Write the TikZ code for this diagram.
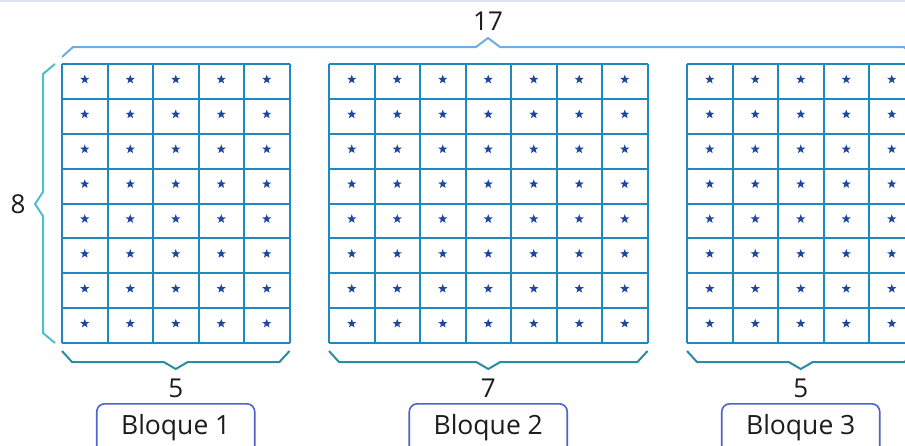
\documentclass[tikz,border=0pt]{standalone}
\usepackage{fontspec}
\setmainfont{Open Sans}
\usetikzlibrary{shapes.geometric}

\definecolor{gridblue}{RGB}{30,136,192}
\definecolor{starblue}{RGB}{30,72,160}
\definecolor{topbrace}{RGB}{110,172,230}
\definecolor{leftbrace}{RGB}{80,188,210}
\definecolor{lowbrace}{RGB}{40,140,162}
\definecolor{boxblue}{RGB}{78,100,200}
\definecolor{stripgray}{RGB}{221,227,240}
\definecolor{inkgray}{RGB}{28,28,28}

\begin{document}
\begin{tikzpicture}[x=1pt,y=-1pt,
    gridline/.style={draw=gridblue,line width=2pt},
    starmark/.style={star,star points=5,star point ratio=2.4,fill=starblue,inner sep=0pt,minimum size=9.5pt},
    brace/.style={line width=2pt,line join=miter},
    numlabel/.style={font=\fontsize{26}{30}\selectfont,text=inkgray,anchor=base,inner sep=0pt},
    blockbox/.style={draw=boxblue,line width=1.6pt,rounded corners=8pt,anchor=north,
      minimum width=158pt,text height=18pt,text depth=6pt,inner ysep=13pt,
      text=inkgray,font=\fontsize{26.5}{30}\selectfont}]
    \useasboundingbox (0,0) rectangle (905,445);
    \clip (0,0) rectangle (905,445);
    \fill[stripgray] (0,0) rectangle (905,2);

    % the three blocks
    \foreach \gx/\n/\k in {62/5/1, 329/7/2, 687/5/3} {
        \pgfmathsetmacro\w{\n*45.5}
        \pgfmathsetmacro\mid{\gx+\w/2}
        \pgfmathtruncatemacro\last{\n-1}
        \foreach \i in {0,...,\n}
            \draw[gridline] ({\gx+\i*45.5},64) -- ({\gx+\i*45.5},343);
        \foreach \j in {0,...,8}
            \draw[gridline] (\gx,{64+\j*34.875}) -- ({\gx+\w},{64+\j*34.875});
        \foreach \i in {0,...,\last}
            \foreach \j in {0,...,7}
                \node[starmark] (s\k-\i-\j) at ({\gx+(\i+0.5)*45.5},{62+(\j+0.5)*34.875}) {};
        % brace and label below
        \draw[brace,lowbrace] (\gx,351) -- (\gx+10,362) -- (\mid-12,362) -- (\mid,369)
            -- (\mid+12,362) -- (\gx+\w-10,362) -- (\gx+\w,351);
        \node[numlabel] (n\k) at (\mid,397) {\n};
        \node[blockbox] (b\k) at (\mid,403) {Bloque \k};
    }

    % brace across the top
    \draw[brace,topbrace] (62,57) -- (73,47) -- (476,47) -- (488,38) -- (500,47)
        -- (904,47) -- (915,57);
    \node[numlabel] (total) at (488,30) {17};

    % brace on the left
    \draw[brace,leftbrace] (55,64) -- (43,74) -- (43,192) -- (35,204) -- (43,216)
        -- (43,333) -- (55,343);
    \node[numlabel] (rows) at (18,213) {8};
\end{tikzpicture}
\end{document}
